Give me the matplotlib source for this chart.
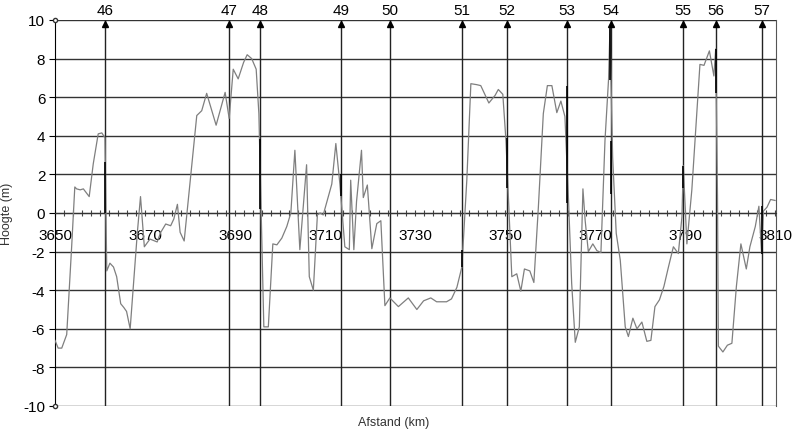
import numpy as np
import matplotlib
matplotlib.use("Agg")
import matplotlib.pyplot as plt

plt.rcParams['font.family'] = ['Liberation Sans', 'DejaVu Sans']
plt.rcParams['axes.unicode_minus'] = False

# hoogteprofiel (km, m)
afstand = [3650.0, 3650.7, 3651.5, 3652.6, 3653.7, 3654.4, 3654.8, 3655.6, 3656.3, 3657.6,
           3658.5, 3659.6, 3660.4, 3661.1, 3661.5, 3662.2, 3663.0, 3663.7, 3664.6, 3665.3,
           3665.9, 3666.7, 3667.5, 3668.3, 3669.0, 3669.85, 3671.1, 3672.7, 3673.5, 3674.6,
           3675.7, 3676.4, 3677.2, 3677.8, 3678.7, 3681.5, 3682.6, 3683.7, 3685.8, 3687.8,
           3688.7, 3689.6, 3690.7, 3691.9, 3692.7, 3693.7, 3694.7, 3695.3, 3696.4, 3697.4,
           3698.4, 3699.3, 3700.4, 3701.5, 3702.4, 3703.3, 3704.4, 3705.9, 3706.5, 3707.4,
           3708.3, 3708.9, 3709.6, 3711.5, 3712.4, 3713.3, 3714.4, 3715.4, 3715.7, 3716.4,
           3717.0, 3718.1, 3718.5, 3719.4, 3720.4, 3721.5, 3722.4, 3723.3, 3724.4, 3726.3,
           3728.5, 3730.4, 3731.9, 3733.5, 3734.8, 3737.0, 3738.1, 3739.3, 3740.4, 3741.5,
           3742.4, 3743.7, 3744.6, 3746.4, 3747.8, 3748.5, 3749.5, 3750.2, 3751.5, 3752.6,
           3753.5, 3754.3, 3755.5, 3756.4, 3757.4, 3758.5, 3759.4, 3760.4, 3761.5, 3762.4,
           3763.3, 3764.1, 3764.8, 3765.6, 3766.5, 3767.3, 3767.8, 3768.5, 3769.5, 3770.4,
           3771.3, 3772.2, 3773.0, 3773.3, 3773.9, 3774.7, 3775.6, 3776.7, 3777.4, 3778.4,
           3779.3, 3780.4, 3781.5, 3782.4, 3783.3, 3784.3, 3785.3, 3786.3, 3787.4, 3788.5,
           3789.3, 3789.6, 3790.4, 3791.5, 3793.3, 3794.2, 3795.4, 3796.4, 3796.8, 3797.2,
           3797.4, 3798.4, 3799.4, 3800.4, 3801.4, 3802.4, 3803.6, 3804.4, 3805.6, 3806.4,
           3807.0, 3807.4, 3808.2, 3809.0, 3810.0]
hoogte = [-6.6, -7.0, -7.0, -6.3, -1.75, 1.35, 1.25, 1.2, 1.25, 0.85,
          2.55, 4.1, 4.15, 3.9, -3.0, -2.6, -2.8, -3.3, -4.7, -4.9,
          -5.1, -6.0, -3.5, -1.0, 0.85, -1.75, -1.35, -1.5, -1.0, -0.57,
          -0.66, -0.31, 0.45, -1.0, -1.45, 5.05, 5.3, 6.2, 4.55, 6.25,
          4.9, 7.45, 6.95, 7.8, 8.2, 8.0, 7.45, 5.15, -5.9, -5.9,
          -1.6, -1.65, -1.3, -0.7, 0.0, 3.25, -1.9, 2.5, -3.3, -4.0,
          -0.1, 0.0, -0.1, 1.5, 3.6, 1.5, -1.75, -1.9, 1.7, -1.9,
          0.6, 3.25, 0.8, 1.45, -1.85, -0.55, -0.4, -4.8, -4.4, -4.85,
          -4.4, -5.0, -4.55, -4.4, -4.6, -4.6, -4.45, -3.85, -2.8, 1.7,
          6.7, 6.65, 6.6, 5.7, 6.1, 6.4, 6.15, 3.75, -3.3, -3.15,
          -4.05, -2.9, -3.0, -3.6, 0.3, 5.15, 6.6, 6.6, 5.2, 5.8,
          5.0, 0.65, -3.65, -6.7, -5.9, 1.25, -0.4, -2.0, -1.6, -1.95,
          -2.05, 3.75, 6.95, 9.5, 2.9, -1.05, -2.45, -5.9, -6.4, -5.45,
          -6.0, -5.65, -6.65, -6.6, -4.85, -4.5, -3.8, -2.8, -1.75, -2.1,
          -0.2, 2.45, -1.6, 1.2, 7.7, 7.65, 8.4, 7.1, 8.5, 0.9,
          -6.9, -7.2, -6.85, -6.75, -3.8, -1.6, -2.9, -1.75, -0.7, 0.35,
          -2.1, 0.1, 0.3, 0.7, 0.65]

# kilometerpalen
paal_km = [3661.1, 3688.7, 3695.5, 3713.6, 3724.4, 3740.4, 3750.4, 3763.8, 3773.6, 3789.5, 3796.9, 3807.0]
paal_nr = ['46', '47', '48', '49', '50', '51', '52', '53', '54', '55', '56', '57']

# donkere stukjes profiel bij de palen
donker_km = [3661.2, 3695.6, 3713.5, 3740.4, 3750.4, 3763.7, 3773.4, 3773.6, 3789.6, 3796.9, 3807.0]
donker_top = [2.65, 3.85, 2.0, -1.9, 3.9, 6.6, 9.6, 3.75, 2.45, 8.5, 0.35]
donker_bodem = [0.0, 0.2, 0.9, -2.8, 1.3, 0.5, 6.9, 1.0, 1.3, 6.2, -2.1]

fig = plt.figure(figsize=(7.94, 4.31), dpi=100)
ax = fig.add_axes([55/794, 24/431, 721/794, 386/431])

for y in range(-10, 12, 2):
    ax.axhline(y, color='#333333', lw=1.0, zorder=1)

for km in paal_km:
    ax.plot([km, km], [-10, 10], color='#222222', lw=1.0, zorder=2)
    ax.plot(km, 9.8, marker='^', color='black', ms=5, zorder=4, clip_on=False)
for km, nr in zip(paal_km, paal_nr):
    ax.annotate(nr, (km, 10), xytext=(0, 2), textcoords='offset points',
                ha='center', va='bottom', fontsize=11, annotation_clip=False)

ax.plot(afstand, hoogte, color='#7f7f7f', lw=0.9, zorder=3)
ax.vlines(donker_km, donker_bodem, donker_top, color='black', lw=1.2, zorder=3)

ax.plot([3650, 3650], [-10, 10], ls='none', marker='o', ms=3, mfc='white', mec='#333333', zorder=5, clip_on=False)

ax.set_xlim(3650, 3810.2)
ax.set_ylim(-10, 10)

ax.spines['bottom'].set_position(('data', 0))
ax.spines['bottom'].set_color('#333333')
ax.spines['left'].set_color('black')
ax.spines['right'].set_color('#555555')
ax.spines['top'].set_visible(False)

ax.set_xticks(np.arange(3650, 3811, 20))
ax.set_xticks(np.arange(3650, 3811, 2), minor=True)
ax.tick_params(axis='x', which='both', direction='inout', length=4, width=0.8,
               color='#444444', pad=9, labelsize=11)
ax.set_yticks(np.arange(-10, 11, 2))
ax.tick_params(axis='y', direction='out', length=4, pad=3, labelsize=11)

ax.set_xlabel('Afstand (km)', fontsize=9, color='#333333')
ax.xaxis.set_label_coords(0.47, -0.025)
ax.set_ylabel('Hoogte (m)', fontsize=9, color='#333333')
ax.yaxis.set_label_coords(-0.058, 0.5)

fig.savefig('out.png', dpi=100)
